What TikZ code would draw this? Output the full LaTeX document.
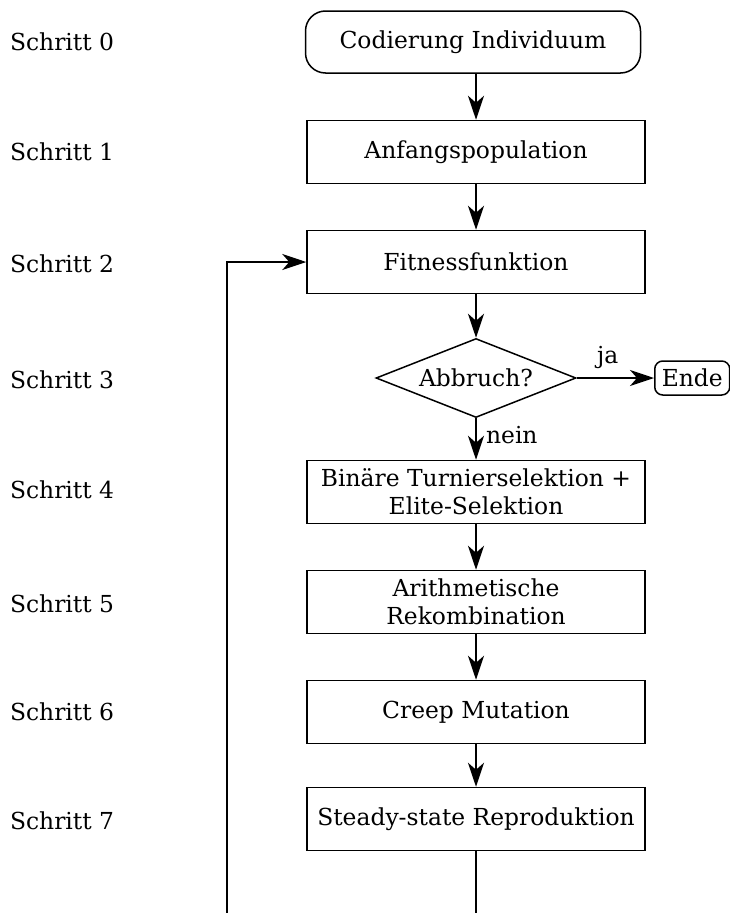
\documentclass[tikz,border=0pt]{standalone}
\usepackage{fontspec}
\setmainfont{DejaVu Serif}
\usetikzlibrary{arrows.meta,shapes.geometric}
\begin{document}
\begin{tikzpicture}[x=1pt,y=-1pt,
  font=\fontsize{23.4}{28}\selectfont,
  line width=1.5pt,
  stepbox/.style={draw, rectangle, minimum width=338pt, minimum height=63pt,
    inner sep=0pt, align=center},
  terminal/.style={draw, rectangle, rounded corners=20pt, minimum width=335pt,
    minimum height=62pt, inner sep=0pt},
  smallterm/.style={draw, rectangle, rounded corners=8pt, minimum height=34pt,
    inner xsep=7pt, inner ysep=0pt},
  decision/.style={draw, diamond, aspect=2.53, minimum width=200pt,
    minimum height=79pt, inner sep=0pt},
  steplabel/.style={anchor=west},
  flow/.style={-{Stealth[length=24pt,width=16pt,inset=7pt]}}
]
\useasboundingbox (0,0) rectangle (730,913);

% main column
\node[terminal] (code) at (473,42) {Codierung Individuum};
\node[stepbox] (init) at (476,152) {Anfangspopulation};
\node[stepbox] (fit) at (476,262) {Fitnessfunktion};
\node[decision] (stop) at (476,378) {Abbruch?};
\node[smallterm, anchor=west] (ende) at (654,378) {Ende};
\node[stepbox] (sel) at (476,492) {Binäre Turnierselektion +\\Elite-Selektion};
\node[stepbox] (rec) at (476,602) {Arithmetische\\Rekombination};
\node[stepbox] (mut) at (476,712) {Creep Mutation};
\node[stepbox] (rep) at (476,819) {Steady-state Reproduktion};

% step labels
\node[steplabel] (s0) at (6,42)  {Schritt 0};
\node[steplabel] (s1) at (6,152) {Schritt 1};
\node[steplabel] (s2) at (6,264) {Schritt 2};
\node[steplabel] (s3) at (6,380) {Schritt 3};
\node[steplabel] (s4) at (6,490) {Schritt 4};
\node[steplabel] (s5) at (6,604) {Schritt 5};
\node[steplabel] (s6) at (6,712) {Schritt 6};
\node[steplabel] (s7) at (6,821) {Schritt 7};

% connectors
\draw[flow] (init.north |- code.south) -- (init.north);
\draw[flow] (init) -- (fit);
\draw[flow] (fit) -- (stop);
\draw[flow] (stop.east) -- node[above, pos=0.4, yshift=5pt] {ja} (ende.west);
\draw[flow] (stop.south) -- node[right, pos=0.4, xshift=6pt] {nein} (sel.north);
\draw[flow] (sel) -- (rec);
\draw[flow] (rec) -- (mut);
\draw[flow] (mut) -- (rep);

% loop back to the fitness evaluation
\coordinate (repend) at (476,913);
\coordinate (loopstart) at (227,913);
\draw (rep.south) -- (repend);
\draw[flow] (loopstart) |- (fit.west);
\end{tikzpicture}
\end{document}
